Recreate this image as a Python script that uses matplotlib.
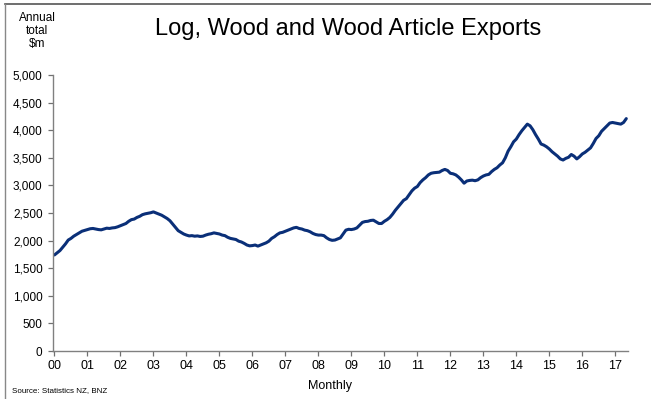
import numpy as np
import matplotlib
matplotlib.use("Agg")
import matplotlib.pyplot as plt
from matplotlib.lines import Line2D

plt.rcParams["font.family"] = ["Liberation Sans", "DejaVu Sans"]

# ---------------------------------------------------------
# Data: annual total log, wood and wood article exports ($m), monthly from Jan 2000
# ---------------------------------------------------------
start_year = 2000
exports_2000 = [1740, 1780, 1820, 1880, 1940, 2010, 2040, 2080, 2110, 2140, 2170, 2185]
exports_2001 = [2200, 2215, 2220, 2210, 2200, 2195, 2210, 2225, 2220, 2230, 2235, 2250]
exports_2002 = [2270, 2290, 2310, 2350, 2380, 2390, 2420, 2440, 2470, 2485, 2495, 2505]
exports_2003 = [2520, 2500, 2480, 2460, 2430, 2400, 2360, 2300, 2240, 2180, 2150, 2120]
exports_2004 = [2100, 2085, 2090, 2080, 2085, 2075, 2080, 2100, 2115, 2125, 2140, 2130]
exports_2005 = [2120, 2100, 2090, 2060, 2040, 2030, 2020, 1990, 1975, 1950, 1920, 1905]
exports_2006 = [1910, 1920, 1900, 1920, 1940, 1960, 1990, 2040, 2070, 2110, 2140, 2150]
exports_2007 = [2170, 2190, 2210, 2230, 2240, 2220, 2210, 2190, 2180, 2160, 2130, 2110]
exports_2008 = [2100, 2100, 2090, 2050, 2020, 2005, 2010, 2030, 2050, 2120, 2190, 2205]
exports_2009 = [2200, 2210, 2230, 2280, 2330, 2345, 2350, 2365, 2370, 2340, 2310, 2310]
exports_2010 = [2350, 2380, 2420, 2480, 2550, 2610, 2670, 2730, 2760, 2830, 2900, 2950]
exports_2011 = [2980, 3050, 3100, 3140, 3190, 3220, 3230, 3235, 3240, 3270, 3290, 3270]
exports_2012 = [3220, 3210, 3190, 3150, 3100, 3040, 3080, 3090, 3095, 3085, 3100, 3140]
exports_2013 = [3170, 3190, 3200, 3250, 3290, 3320, 3370, 3410, 3500, 3620, 3700, 3790]
exports_2014 = [3840, 3920, 3990, 4050, 4110, 4080, 4010, 3920, 3840, 3750, 3730, 3700]
exports_2015 = [3660, 3610, 3570, 3530, 3480, 3460, 3490, 3510, 3560, 3530, 3480, 3520]
exports_2016 = [3570, 3600, 3640, 3680, 3760, 3850, 3900, 3980, 4030, 4080, 4130, 4140]
exports_2017 = [4130, 4120, 4110, 4140, 4210]

exports = (exports_2000 + exports_2001 + exports_2002 + exports_2003 + exports_2004
           + exports_2005 + exports_2006 + exports_2007 + exports_2008 + exports_2009
           + exports_2010 + exports_2011 + exports_2012 + exports_2013 + exports_2014
           + exports_2015 + exports_2016 + exports_2017)

year_ticks = list(range(2000, 2018))
year_labels = [f"{y % 100:02d}" for y in year_ticks]
value_ticks = list(range(0, 5001, 500))

dates = start_year + np.arange(len(exports)) / 12.0

# ---------------------------------------------------------
# Plot
# ---------------------------------------------------------
fig = plt.figure(figsize=(6.51, 3.99), dpi=100)
ax = fig.add_axes([0.0814, 0.1203, 0.883, 0.6917])

ax.plot(dates, exports, color="#0a2f78", linewidth=2.2, solid_capstyle="round")

ax.set_xlim(1999.955, 2017.38)
ax.set_ylim(0, 5000)

ax.set_xticks(year_ticks)
ax.set_xticklabels(year_labels, fontsize=9)
ax.set_yticks(value_ticks)
ax.set_yticklabels([f"{v:,}" for v in value_ticks], fontsize=8.5)

ax.tick_params(axis="both", direction="out", length=3.5, width=0.9, color="#707070")
ax.tick_params(axis="x", pad=3)
ax.tick_params(axis="y", pad=4)

for side in ["top", "right"]:
    ax.spines[side].set_visible(False)
for side in ["left", "bottom"]:
    ax.spines[side].set_color("#808080")
    ax.spines[side].set_linewidth(1.0)

# Titles and notes
fig.text(0.535, 0.927, "Log, Wood and Wood Article Exports", ha="center", va="center", fontsize=17)
fig.text(0.057, 0.922, "Annual\ntotal\n$m", ha="center", va="center", fontsize=8.5, linespacing=1.1)
fig.text(0.507, 0.032, "Monthly", ha="center", va="center", fontsize=9)
fig.text(0.018, 0.022, "Source: Statistics NZ, BNZ", ha="left", va="center", fontsize=5.8)

# Frame lines at top and left of the figure
fig.add_artist(Line2D([0.008, 1.0], [0.99, 0.99], transform=fig.transFigure, color="#555555", linewidth=1.2))
fig.add_artist(Line2D([0.008, 0.008], [0.0, 0.99], transform=fig.transFigure, color="#888888", linewidth=1.0))

fig.savefig("out.png", dpi=100)
plt.close(fig)
